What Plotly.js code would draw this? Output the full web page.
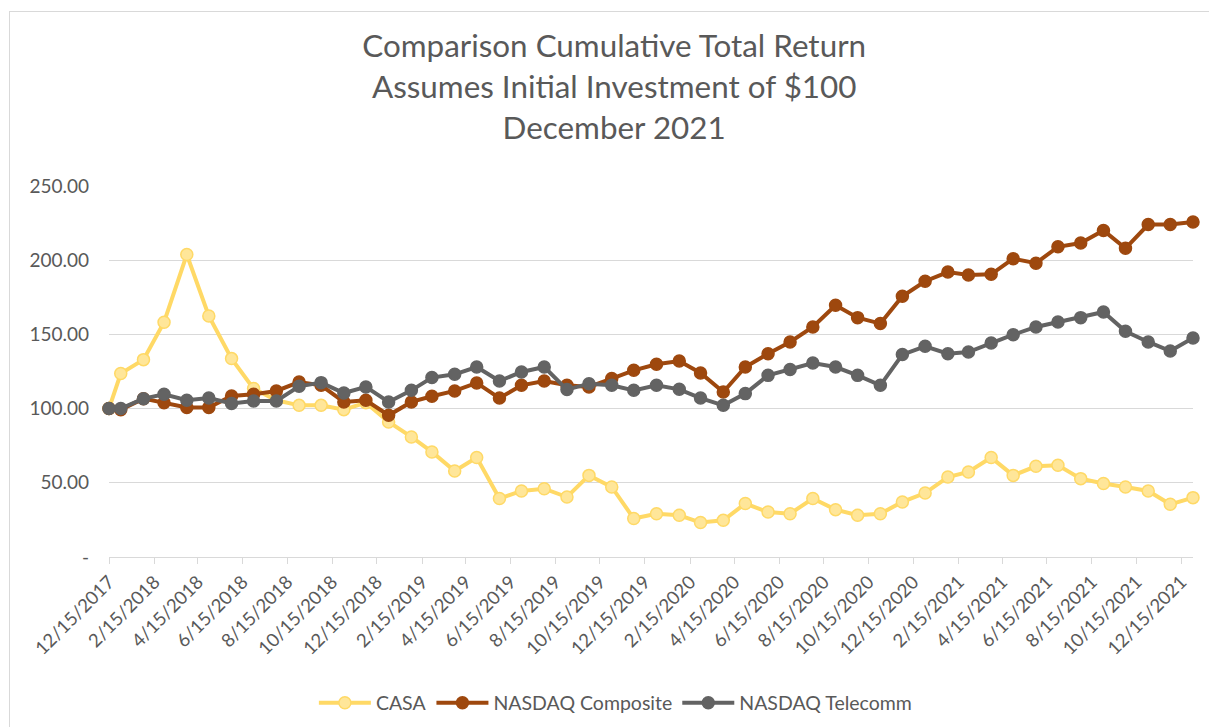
<!DOCTYPE html>
<html>
<head>
<meta charset="utf-8">
<script src="https://cdn.plot.ly/plotly-3.0.1.min.js"></script>
<style>
  html, body { margin: 0; padding: 0; background: #ffffff; }
  #chart { position: absolute; left: 0; top: 0; width: 1209px; height: 727px; }
  #frame { position: absolute; left: 9px; top: 11px; width: 1300px; height: 800px;
           border-left: 1px solid #d9d9d9; border-top: 1px solid #d9d9d9; pointer-events: none; }
</style>
</head>
<body>
<div id="chart"></div>
<div id="frame"></div>
<script>
const dates = [
  "2017-12-15", "2017-12-31",
  "2018-01-31", "2018-02-28", "2018-03-31", "2018-04-30", "2018-05-31", "2018-06-30",
  "2018-07-31", "2018-08-31", "2018-09-30", "2018-10-31", "2018-11-30", "2018-12-31",
  "2019-01-31", "2019-02-28", "2019-03-31", "2019-04-30", "2019-05-31", "2019-06-30",
  "2019-07-31", "2019-08-31", "2019-09-30", "2019-10-31", "2019-11-30", "2019-12-31",
  "2020-01-31", "2020-02-29", "2020-03-31", "2020-04-30", "2020-05-31", "2020-06-30",
  "2020-07-31", "2020-08-31", "2020-09-30", "2020-10-31", "2020-11-30", "2020-12-31",
  "2021-01-31", "2021-02-28", "2021-03-31", "2021-04-30", "2021-05-31", "2021-06-30",
  "2021-07-31", "2021-08-31", "2021-09-30", "2021-10-31", "2021-11-30", "2021-12-31"
];

const casa = [100, 123.6, 133, 158.2, 203.8, 162.4, 133.7, 113.5, 105.6, 102.2, 102.2, 99.3, 104, 91,
  80.9, 70.8, 58, 67, 39.4, 44.5, 46, 40.4, 55, 47.2, 25.9, 29.2,
  28.1, 23.2, 24.7, 36, 30.3, 29.2, 39.4, 31.9, 28.1, 29.2, 37.1, 43.1,
  53.9, 57.3, 67, 55, 61.1, 61.8, 52.8, 49.5, 47.2, 44.5, 35.5, 40];

const nasdaqComposite = [100, 99.3, 106.7, 104, 100.7, 100.7, 108.5, 109.6, 111.9, 117.9, 115.7, 104.5, 105.6, 95.5,
  104.5, 108.3, 111.9, 117.3, 107.1, 115.7, 118.6, 115.7, 114.6, 120.2, 125.8, 129.9,
  132.1, 124, 111.2, 128, 137, 144.9, 155, 169.6, 161.3, 157.3, 175.7, 185.8,
  192, 190, 190.5, 201, 198, 209, 211.6, 220, 208, 224, 224, 225.7];

const nasdaqTelecomm = [100, 100, 106.7, 109.6, 105.6, 107.1, 103.4, 105.1, 105.1, 115, 117.5, 110.5, 114.6, 104.5,
  112.3, 120.9, 123.1, 128, 118.6, 124.7, 128, 112.8, 116.8, 115.7, 112.3, 115.7,
  113, 107.1, 102.2, 110.1, 122.4, 126.3, 130.7, 128, 122.4, 115.7, 136.4, 142,
  137, 138.1, 144.2, 149.8, 155, 158.4, 161.3, 165.1, 152.1, 144.9, 138.8, 147.6];

const seriesNames = ["CASA", "NASDAQ Composite", "NASDAQ Telecomm"];
const yTickVals = [0, 50, 100, 150, 200, 250];
const yTickText = ["-", "50.00", "100.00", "150.00", "200.00", "250.00"];

const FONT = "Lato, 'Open Sans', sans-serif";
const TXT = "#595959";

function mk(name, y, lineColor, fillColor) {
  return {
    type: "scatter", mode: "lines+markers", name: name, x: dates, y: y,
    cliponaxis: false,
    line: { color: lineColor, width: 4 },
    marker: { symbol: "circle", size: 12, color: fillColor, line: { color: lineColor, width: 1.5 } }
  };
}

const data = [
  mk(seriesNames[0], casa, "#FFD966", "#FFE699"),
  mk(seriesNames[1], nasdaqComposite, "#9E480E", "#9E480E"),
  mk(seriesNames[2], nasdaqTelecomm, "#636363", "#636363")
];

const layout = {
  width: 1209, height: 727,
  paper_bgcolor: "#ffffff", plot_bgcolor: "#ffffff",
  margin: { l: 109, r: 16, t: 186, b: 170, pad: 0, autoexpand: false },
  font: { family: FONT, color: TXT, size: 18 },
  title: {
    text: "Comparison Cumulative Total Return<br>Assumes Initial Investment of $100<br>December 2021",
    font: { family: FONT, size: 31.4, color: TXT },
    x: 0.508, xref: "container", xanchor: "center",
    y: 1 - 57 / 727, yref: "container", yanchor: "top"
  },
  xaxis: {
    type: "date",
    range: ["2017-12-15", "2021-12-31"],
    tick0: "2017-12-15", dtick: "M2",
    tickformat: "%-m/%d/%Y",
    tickangle: -45,
    automargin: false,
    ticks: "outside", ticklen: 6, tickcolor: "#d9d9d9", tickwidth: 1,
    showline: true, linecolor: "#d9d9d9", linewidth: 1,
    showgrid: false, zeroline: false,
    tickfont: { family: FONT, size: 18.5, color: TXT }
  },
  yaxis: {
    range: [0, 250],
    automargin: false,
    tickmode: "array", tickvals: yTickVals, ticktext: yTickText,
    showgrid: true, gridcolor: "#d9d9d9", gridwidth: 1,
    zeroline: false, showline: false, ticks: "",
    ticklabelstandoff: 19,
    tickfont: { family: FONT, size: 19, color: TXT }
  },
  showlegend: true,
  legend: {
    orientation: "h", x: 0.509, xanchor: "center", xref: "container",
    y: 24 / 727, yanchor: "middle", yref: "container",
    font: { family: FONT, size: 19.5, color: TXT },
    itemwidth: 52, tracegroupgap: 0
  }
};

Plotly.newPlot("chart", data, layout, { displayModeBar: false, staticPlot: true });
</script>
</body>
</html>
